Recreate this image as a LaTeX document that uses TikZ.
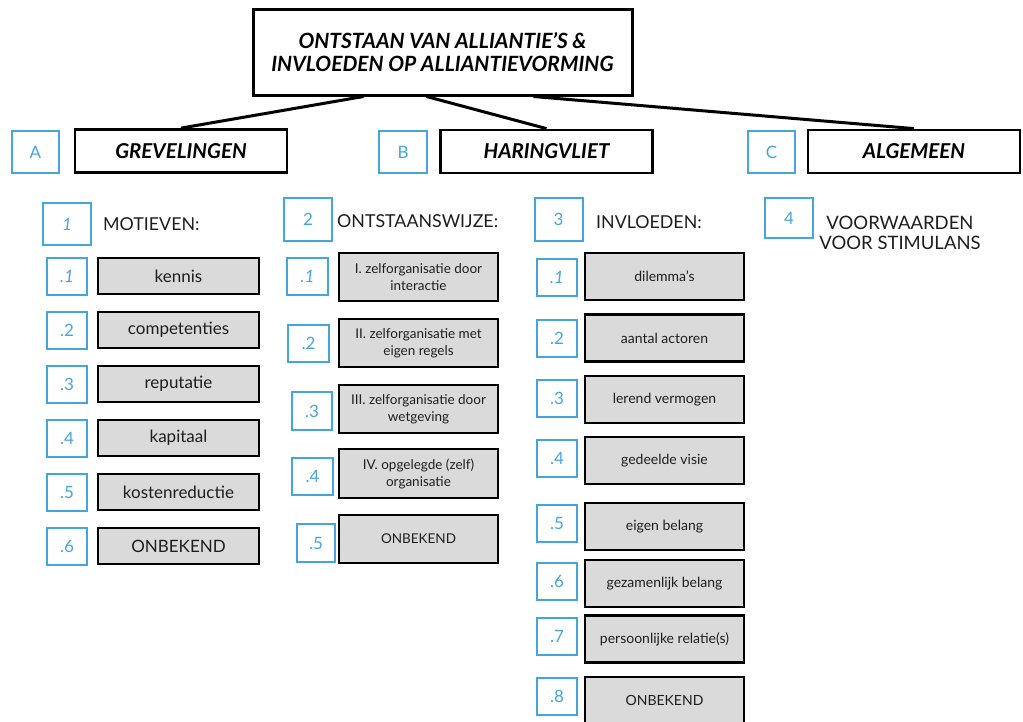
\documentclass[tikz,border=0pt]{standalone}
\usepackage{fontspec}
\setmainfont{Lato}
\definecolor{tagblue}{HTML}{45A5DF}
\definecolor{itemgray}{HTML}{DADADA}
\definecolor{ink}{HTML}{1E1E1E}
\tikzset{
  titlebox/.style={draw, line width=3pt, minimum width=379pt, minimum height=86pt,
    align=center, font=\fontsize{21}{23}\selectfont\bfseries\itshape},
  headbox/.style={draw, line width=2.8pt, minimum width=212pt, minimum height=43pt,
    font=\fontsize{20.5}{22}\selectfont\bfseries\itshape},
  tagbox/.style={draw=tagblue, line width=2pt, text=tagblue, inner sep=0pt,
    font=\fontsize{17}{19}\selectfont},
  bigtag/.style={tagbox, minimum width=48pt, minimum height=42pt},
  smalltag/.style={tagbox, minimum width=40pt, minimum height=37pt},
  item/.style={draw, fill=itemgray, line width=2.6pt, text=ink, inner sep=0pt, align=center},
  itemA/.style={item, minimum width=161pt, minimum height=36pt, font=\fontsize{17}{19}\selectfont},
  itemB/.style={item, minimum width=159pt, minimum height=48pt, font=\fontsize{13.5}{17}\selectfont},
  itemC/.style={item, minimum width=159pt, minimum height=47pt, font=\fontsize{14}{17}\selectfont},
  caption/.style={anchor=west, inner sep=0pt, text=ink, font=\fontsize{17.8}{20}\selectfont},
  conn/.style={line width=3pt},
}
\begin{document}
\begin{tikzpicture}[x=1pt, y=-1pt]
\useasboundingbox (0,0) rectangle (1023,721);

% title and the three areas
\node[titlebox] (title) at (442.5,52) {ONTSTAAN VAN ALLIANTIE'S \&\\INVLOEDEN OP ALLIANTIEVORMING};
\node[headbox] (grev) at (181,151) {GREVELINGEN};
\node[headbox] (har) at (546.5,151.5) {HARINGVLIET};
\node[headbox] (alg) at (914,151.5) {ALGEMEEN};
\node[bigtag, minimum width=47pt] (tA) at (35.5,152) {A};
\node[bigtag] (tB) at (403,152) {B};
\node[bigtag, minimum width=47pt] (tC) at (771.5,152) {C};

\draw[conn] ([xshift=112pt]title.south west) -- (grev.north);
\draw[conn] ([xshift=175pt]title.south west) -- (har.north);
\draw[conn] ([xshift=282pt]title.south west) -- (alg.north);

% section headings
\node[bigtag] (s1) at (67,224) {\textit{1}};
\node[caption] (c1) at (103,224) {MOTIEVEN:};
\node[bigtag, minimum height=43pt] (s2) at (308,219.5) {2};
\node[caption] (c2) at (337,221) {ONTSTAANSWIJZE:};
\node[bigtag, minimum height=43pt] (s3) at (558.5,219.5) {3};
\node[caption] (c3) at (596,222) {INVLOEDEN:};
\node[bigtag, minimum height=40pt] (s4) at (789,218) {4};
\node[caption, anchor=center, align=center, font=\fontsize{18.5}{20}\selectfont] (c4) at (900,233) {VOORWAARDEN\\VOOR STIMULANS};

% 1: motieven
\foreach \y/\n/\t in {276/\textit{.1}/kennis, 330/.2/competenties, 384/.3/reputatie,
                      438/.4/kapitaal, 492/.5/kostenreductie, 546/.6/ONBEKEND} {
  \node[smalltag] at (67,\y) {\n};
  \node[itemA] at (178.5,\y) {\t};
}

% 2: ontstaanswijze
\node[smalltag, minimum width=41pt] (l21) at (307.5,276.5) {\textit{.1}};
\node[smalltag, minimum width=41pt] (l22) at (308.5,343.5) {.2};
\node[smalltag, minimum width=40pt, minimum height=38pt] (l23) at (312,411) {.3};
\node[smalltag, minimum width=41pt] (l24) at (312.5,476.5) {.4};
\node[smalltag, minimum width=38pt, minimum height=38pt] (l25) at (316,543) {.5};
\node[itemB] (b1) at (418.5,277) {I. zelforganisatie door\\interactie};
\node[itemB] (b2) at (418.5,343) {II. zelforganisatie met\\eigen regels};
\node[itemB] (b3) at (418.5,409) {III. zelforganisatie door\\wetgeving};
\node[itemB, minimum height=49pt] (b4) at (418.5,473.5) {IV. opgelegde (zelf)\\organisatie};
\node[itemB] (b5) at (418.5,539) {ONBEKEND};

% 3: invloeden
\foreach \y/\z/\n/\t in {277.5/276.5/\textit{.1}/dilemma's, 338/338/.2/aantal actoren,
                         398/399.5/.3/lerend vermogen, 458.5/460.5/.4/gedeelde visie,
                         523.5/526.5/.5/eigen belang, 581.5/583.5/.6/gezamenlijk belang,
                         636.5/639/.7/persoonlijke relatie(s), 696.5/700.5/.8/ONBEKEND} {
  \node[smalltag] at (557,\y) {\n};
  \node[itemC] at (664.5,\z) {\t};
}
\end{tikzpicture}
\end{document}
